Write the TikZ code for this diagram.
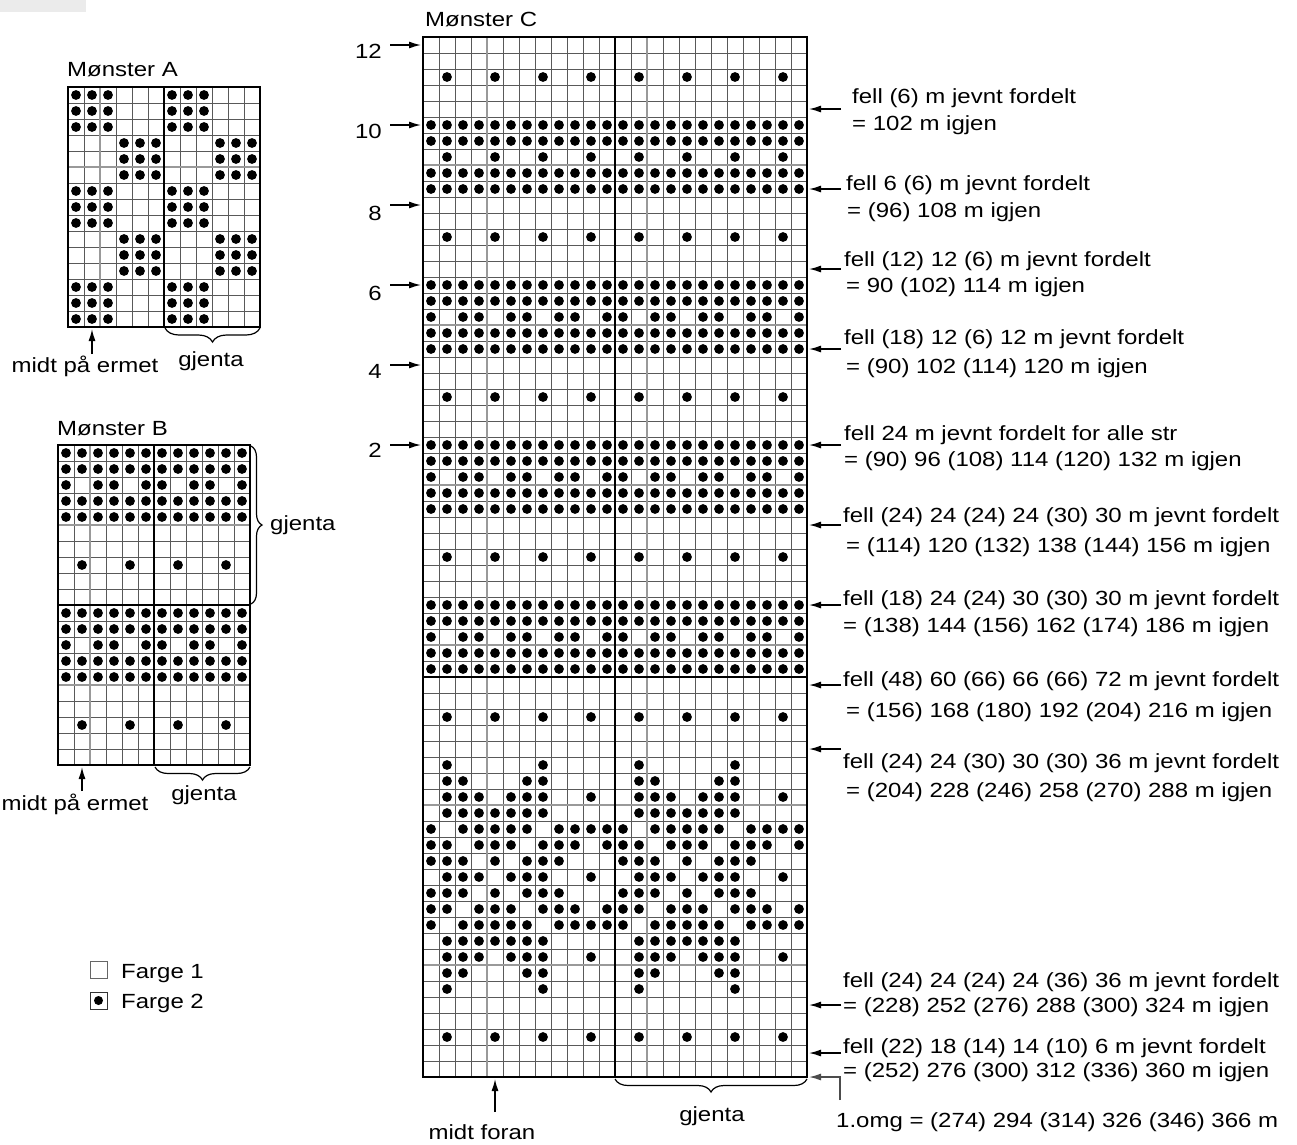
\documentclass[tikz,border=0pt]{standalone}
\usepackage{fontspec}
\setmainfont[FakeStretch=1.17]{Liberation Sans}
\usetikzlibrary{arrows.meta,decorations.pathreplacing}
\newcommand\fs{\fontsize{20.5pt}{24pt}\selectfont}
\newcommand\crow[2]{\foreach \hh in {0,12}{\foreach \cc in {#2}{\fill (431+16*\hh+16*\cc, 45+16*#1) circle[radius=4.9pt];}}}
\tikzset{
 gl/.style={draw=black!65, line width=0.75pt},
 em/.style={draw=black!40, line width=1.8pt},
 tk/.style={draw=black, line width=2.7pt},
 arr/.style={line width=1.4pt, -{Latex[length=12pt,width=7pt]}},
 lbl/.style={anchor=base west, inner sep=0pt, font=\fs},
 ctr/.style={anchor=base, inner sep=0pt, font=\fs},
 brc/.style={decorate, decoration={brace, amplitude=#1}, line width=1.2pt},
}
\begin{document}
\begin{tikzpicture}[x=1pt,y=-1pt]
\useasboundingbox (0,0) rectangle (1297,1144);
\fill[white] (0,0) rectangle (1297,1144);
\fill[black!8] (0,0) rectangle (86,12);

% ================= Mønster A =================
\node[lbl] (titA) at (67,76) {Mønster A};
\foreach \i in {1,...,11} \draw[gl] (68+16*\i,87) -- (68+16*\i,327);
\foreach \j in {1,...,14} \draw[gl] (68,87+16*\j) -- (260,87+16*\j);
\draw[em] (100,87) -- (100,327);
\draw[em] (68,167) -- (260,167);
\foreach \r in {0,1,2,6,7,8,12,13,14}{\foreach \c in {0,1,2,6,7,8}{\fill (76+16*\c, 95+16*\r) circle[radius=4.9pt];}}
\foreach \r in {3,4,5,9,10,11}{\foreach \c in {3,4,5,9,10,11}{\fill (76+16*\c, 95+16*\r) circle[radius=4.9pt];}}
\draw[tk] (164,87) -- (164,327);
\draw[tk] (68,87) rectangle (260,327);
\node[ctr] (midA) at (85,372) {midt på ermet};
\coordinate (aA1) at (92,354);
\coordinate (aA2) at (92,329);
\draw[arr] (aA1) -- (aA2);
\coordinate (bA1) at (260,328);
\coordinate (bA2) at (165,328);
\draw[brc=14pt] (bA1) -- (bA2);
\node[ctr] (gjA) at (211,366) {gjenta};

% ================= Mønster B =================
\node[lbl] (titB) at (57,435) {Mønster B};
\foreach \i in {1,...,11} \draw[gl] (58+16*\i,445) -- (58+16*\i,765);
\foreach \j in {1,...,19} \draw[gl] (58,445+16*\j) -- (250,445+16*\j);
\draw[em] (90,445) -- (90,765);
\draw[em] (58,525) -- (250,525);
\draw[em] (58,685) -- (250,685);
\foreach \r in {0,1,3,4,10,11,13,14}{\foreach \c in {0,...,11}{\fill (66+16*\c, 453+16*\r) circle[radius=4.9pt];}}
\foreach \r in {2,12}{\foreach \c in {0,2,3,5,6,8,9,11}{\fill (66+16*\c, 453+16*\r) circle[radius=4.9pt];}}
\foreach \r in {7,17}{\foreach \c in {1,4,7,10}{\fill (66+16*\c, 453+16*\r) circle[radius=4.9pt];}}
\draw[tk] (154,445) -- (154,765);
\draw[tk] (58,605) -- (250,605);
\draw[tk] (58,445) rectangle (250,765);
\coordinate (bB1) at (251,446);
\coordinate (bB2) at (251,604);
\draw[brc=11pt] (bB1) -- (bB2);
\node[lbl] (gjB1) at (270,530) {gjenta};
\coordinate (bB3) at (250,767);
\coordinate (bB4) at (155,767);
\draw[brc=13pt] (bB3) -- (bB4);
\node[ctr] (gjB2) at (204,800) {gjenta};
\node[ctr] (midB) at (75,810) {midt på ermet};
\coordinate (aB1) at (82,791);
\coordinate (aB2) at (82,767);
\draw[arr] (aB1) -- (aB2);

% ================= Legend =================
\draw[black!60, line width=0.8pt] (90,961) rectangle (107,978);
\node[lbl] (f1) at (121,978) {Farge 1};
\draw[black!80, line width=0.8pt] (90,992) rectangle (107,1009);
\fill (98.5,1000.5) circle[radius=4.5pt];
\node[lbl] (f2) at (121,1008) {Farge 2};

% ================= Mønster C =================
\node[lbl] (titC) at (425,26) {Mønster C};
\foreach \i in {1,...,23} \draw[gl] (423+16*\i,37) -- (423+16*\i,1077);
\foreach \j in {1,...,64} \draw[gl] (423,37+16*\j) -- (807,37+16*\j);
\draw[em] (487,37) -- (487,1077);
\draw[em] (647,37) -- (647,1077);
\foreach \j in {8,18,28,38,48,58} \draw[em] (423,37+16*\j) -- (807,37+16*\j);
\foreach \r in {5,6,8,9,15,16,18,19,25,26,28,29,35,36,38,39}{\crow{\r}{0,...,11}}
\foreach \r in {2,7,12,22,32,42,62}{\crow{\r}{1,4,7,10}}
\foreach \r in {17,27,37}{\crow{\r}{0,2,3,5,6,8,9,11}}
\foreach \r in {45,59}{\crow{\r}{1,7}}
\foreach \r in {46,58}{\crow{\r}{1,2,6,7}}
\foreach \r in {47,52,57}{\crow{\r}{1,2,3,5,6,7,10}}
\foreach \r in {48,56}{\crow{\r}{1,2,3,4,5,6,7}}
\foreach \r in {49,55}{\crow{\r}{0,2,3,4,5,6,8,9,10,11}}
\foreach \r in {50,54}{\crow{\r}{0,1,3,4,5,7,8,9,11}}
\foreach \r in {51,53}{\crow{\r}{0,1,2,4,6,7,8}}
\draw[tk] (615,37) -- (615,1077);
\draw[tk] (423,677) -- (807,677);
\draw[tk] (423,37) rectangle (807,1077);

% left row numbers
\foreach \y/\b/\n in {45/58/12,125/138/10,205/220/8,285/300/6,365/378/4,445/457/2}{
  \node[anchor=base east, inner sep=0pt, font=\fs] (num\n) at (382,\b) {\n};
  \coordinate (ls\n) at (390,\y);
  \coordinate (lt\n) at (421,\y);
  \draw[arr] (ls\n) -- (lt\n);
}

% right arrows
\foreach \y [count=\k] in {109,189,269,349,445,525,605,685,749,1005,1053}{
  \coordinate (rs\k) at (841,\y);
  \coordinate (rt\k) at (809,\y);
  \draw[arr] (rs\k) -- (rt\k);
}

% right labels
\node[lbl] (t1a) at (852,103.5) {fell (6) m jevnt fordelt};
\node[lbl] (t1b) at (852,130) {= 102 m igjen};
\node[lbl] (t2a) at (846,190) {fell 6 (6) m jevnt fordelt};
\node[lbl] (t2b) at (847,217) {= (96) 108 m igjen};
\node[lbl] (t3a) at (844,266) {fell (12) 12 (6) m jevnt fordelt};
\node[lbl] (t3b) at (846,292.5) {= 90 (102) 114 m igjen};
\node[lbl] (t4a) at (844,344.5) {fell (18) 12 (6) 12 m jevnt fordelt};
\node[lbl] (t4b) at (846,373.5) {= (90) 102 (114) 120 m igjen};
\node[lbl] (t5a) at (844,440) {fell 24 m jevnt fordelt for alle str};
\node[lbl] (t5b) at (844,466) {= (90) 96 (108) 114 (120) 132 m igjen};
\node[lbl] (t6a) at (843,522) {fell (24) 24 (24) 24 (30) 30 m jevnt fordelt};
\node[lbl] (t6b) at (846,552.5) {= (114) 120 (132) 138 (144) 156 m igjen};
\node[lbl] (t7a) at (843,605) {fell (18) 24 (24) 30 (30) 30 m jevnt fordelt};
\node[lbl] (t7b) at (843,632.5) {= (138) 144 (156) 162 (174) 186 m igjen};
\node[lbl] (t8a) at (843,686) {fell (48) 60 (66) 66 (66) 72 m jevnt fordelt};
\node[lbl] (t8b) at (846,717) {= (156) 168 (180) 192 (204) 216 m igjen};
\node[lbl] (t9a) at (843,768.5) {fell (24) 24 (30) 30 (30) 36 m jevnt fordelt};
\node[lbl] (t9b) at (846,797) {= (204) 228 (246) 258 (270) 288 m igjen};
\node[lbl] (t10a) at (843,987) {fell (24) 24 (24) 24 (36) 36 m jevnt fordelt};
\node[lbl] (t10b) at (843,1012) {= (228) 252 (276) 288 (300) 324 m igjen};
\node[lbl] (t11a) at (843,1053.5) {fell (22) 18 (14) 14 (10) 6 m jevnt fordelt};
\node[lbl] (t11b) at (843,1077) {= (252) 276 (300) 312 (336) 360 m igjen};
\node[lbl] (omg) at (836,1127) {1.omg = (274) 294 (314) 326 (346) 366 m};
\coordinate (os) at (840,1100);
\coordinate (ot) at (809,1077);
\draw[arr, draw=black!70] (os) |- (ot);

% bottom of C
\coordinate (aC1) at (495,1112);
\coordinate (aC2) at (495,1079);
\draw[arr] (aC1) -- (aC2);
\node[ctr] (midC) at (482,1139) {midt foran};
\coordinate (bC1) at (807,1079);
\coordinate (bC2) at (615,1079);
\draw[brc=13pt] (bC1) -- (bC2);
\node[ctr] (gjC) at (712,1121) {gjenta};
\end{tikzpicture}
\end{document}
